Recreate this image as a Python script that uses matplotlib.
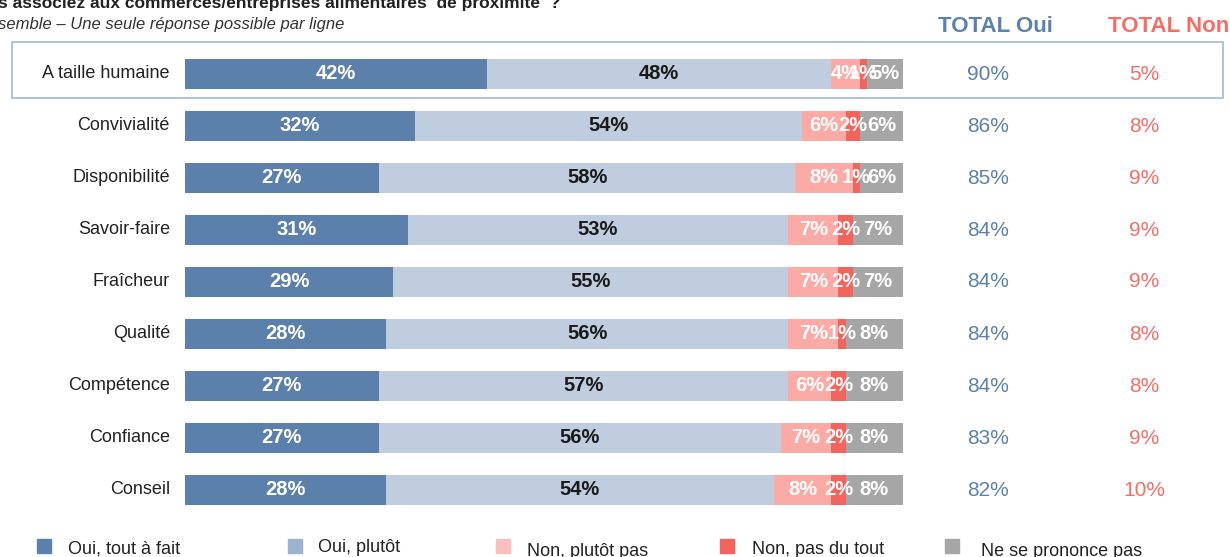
'''
Stacked bar chart - proximity food shops
'''

#libraries
import matplotlib.pyplot as plt
import matplotlib.patches as mpatches
import numpy as np
import matplotlib
##########

matplotlib.rcParams['font.family'] = ['Liberation Sans', 'DejaVu Sans']

#data
categories = ['A taille humaine', 'Convivialité', 'Disponibilité', 'Savoir-faire', 'Fraîcheur',
              'Qualité', 'Compétence', 'Confiance', 'Conseil']
oui_tout = [42, 32, 27, 31, 29, 28, 27, 27, 28]
oui_plutot = [48, 54, 58, 53, 55, 56, 57, 56, 54]
non_plutot = [4, 6, 8, 7, 7, 7, 6, 7, 8]
non_tout = [1, 2, 1, 2, 2, 1, 2, 2, 2]
nsp = [5, 6, 6, 7, 7, 8, 8, 8, 8]
total_oui = [90, 86, 85, 84, 84, 84, 84, 83, 82]
total_non = [5, 8, 9, 9, 9, 8, 8, 9, 10]
legend_labels = ['Oui, tout à fait', 'Oui, plutôt', 'Non, plutôt pas', 'Non, pas du tout', 'Ne se prononce pas']
##########

#constants
W, H = 1230, 557
COLORS = ['#5b80ab', '#bfcddf', '#fbaaa6', '#f3645d', '#a6a6a6']
LEG_COLORS = ['#5b80ab', '#9bb2d0', '#fbc0bd', '#f3645d', '#a6a6a6']
TXT_COLORS = ['white', '#1a1a1a', 'white', 'white', 'white']
BLUE_TXT = '#5b80ab'
RED_TXT = '#f66d66'
##########

def fx(px):
    return px / W

def fy(py):
    return 1 - py / H

fig = plt.figure(figsize=(W / 100, H / 100), dpi=100)

# box around first row
fig.patches.append(mpatches.Rectangle((fx(12), fy(98)), fx(1223) - fx(12), fy(42) - fy(98),
                                      transform=fig.transFigure, fill=False,
                                      edgecolor='#a3b8d3', linewidth=1.2))

ax = fig.add_axes([fx(185), fy(516), fx(903) - fx(185), 468 / H])
ax.set_xlim(0, 100)
ax.set_ylim(len(categories) - 0.5, -0.5)
ax.axis('off')

series = [oui_tout, oui_plutot, non_plutot, non_tout, nsp]
y = np.arange(len(categories))
left = np.zeros(len(categories))
for s, vals in enumerate(series):
    vals = np.array(vals)
    ax.barh(y, vals, left=left, height=0.58, color=COLORS[s], edgecolor='none')
    for i in range(len(categories)):
        ax.text(left[i] + vals[i] / 2, y[i], '%d%%' % vals[i], ha='center', va='center',
                color=TXT_COLORS[s], fontsize=14.5, fontweight='bold')
    left += vals

for i, cat in enumerate(categories):
    ax.text(-2.1, y[i], cat, ha='right', va='center', fontsize=13, color='#222222')
    yy = fy(74 + 52 * i)
    fig.text(fx(988), yy, '%d%%' % total_oui[i], ha='center', va='center', fontsize=15, color=BLUE_TXT)
    fig.text(fx(1144), yy, '%d%%' % total_non[i], ha='center', va='center', fontsize=15, color=RED_TXT)

fig.text(fx(995), fy(27), 'TOTAL Oui', ha='center', va='center', fontsize=16,
         fontweight='bold', color=BLUE_TXT)
fig.text(fx(1169), fy(27), 'TOTAL Non', ha='center', va='center', fontsize=16,
         fontweight='bold', color=RED_TXT)

# title (cut on left and top)
fig.text(fx(-2), fy(8), 's associez aux commerces/entreprises alimentaires  de proximité  ?',
         ha='left', va='baseline', fontsize=12.5, fontweight='bold', color='#222222')
fig.text(fx(-2), fy(29), 'semble – Une seule réponse possible par ligne',
         ha='left', va='baseline', fontsize=12, fontstyle='italic', color='#333333')

# legend
leg_x = [44, 295, 503, 727, 952]
leg_tx = [68, 318, 527, 752, 981]
leg_ty = [549, 548, 551, 549, 552]
for k in range(5):
    fig.patches.append(mpatches.Rectangle((fx(leg_x[k] - 7), fy(553)), fx(14), 14 / H,
                                          transform=fig.transFigure, color=LEG_COLORS[k]))
    fig.text(fx(leg_tx[k]), fy(leg_ty[k]), legend_labels[k], ha='left', va='center',
             fontsize=13, color='#222222')

fig.savefig('out.png', dpi=100)
